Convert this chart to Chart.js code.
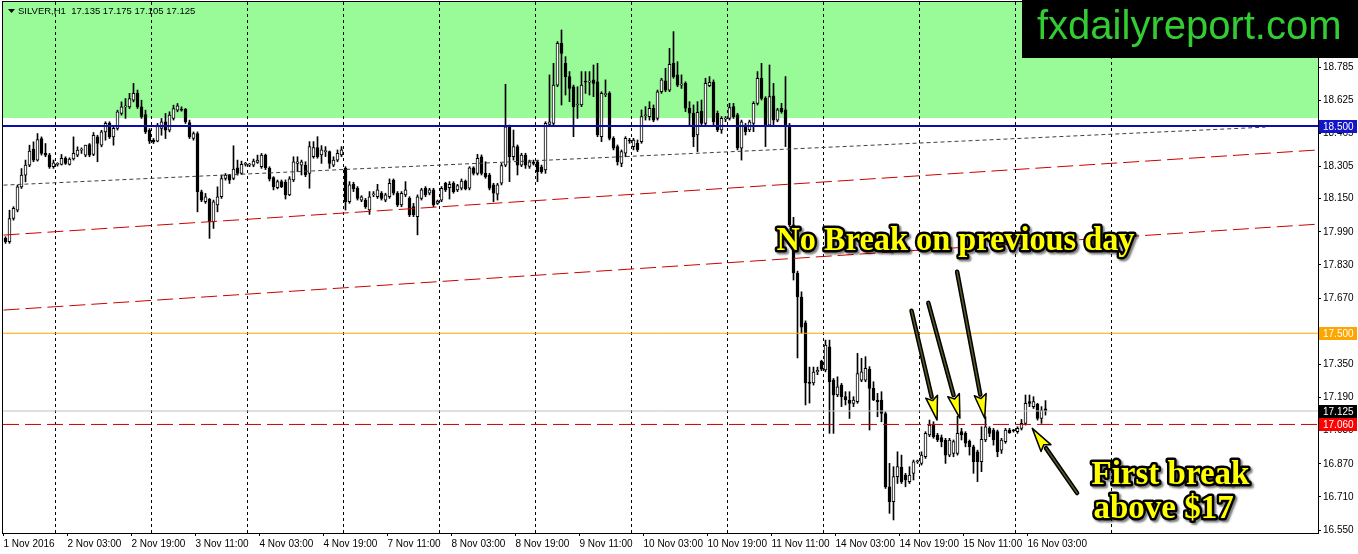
<!DOCTYPE html>
<html>
<head>
<meta charset="UTF-8">
<title>SILVER,H1</title>
<script src="https://cdn.jsdelivr.net/npm/chart.js"></script>
<style>
    html, body { margin: 0; padding: 0; background: #fff; }
    #wrap { width: 1358px; height: 554px; position: relative; }
</style>
</head>
<body>
<div id="wrap"><canvas id="chart"></canvas></div>
<script>
// hourly candles (bar 0 = 1 Nov 11:00)
const opens = [
    17.958, 17.942, 18.054, 18.094, 18.207, 18.263, 18.312, 18.389, 18.336, 18.440,
    18.368, 18.360, 18.304, 18.315, 18.315, 18.344, 18.315, 18.341, 18.360, 18.384,
    18.360, 18.411, 18.363, 18.448, 18.408, 18.472, 18.513, 18.448, 18.489, 18.561,
    18.593, 18.593, 18.625, 18.658, 18.593, 18.556, 18.480, 18.432, 18.427, 18.489,
    18.521, 18.480, 18.537, 18.577, 18.580, 18.582, 18.517, 18.440, 18.464, 18.183,
    18.135, 18.148, 18.038, 18.119, 18.159, 18.247, 18.263, 18.247, 18.299, 18.271,
    18.315, 18.312, 18.312, 18.325, 18.304, 18.360, 18.296, 18.251, 18.203, 18.232,
    18.229, 18.168, 18.240, 18.320, 18.312, 18.312, 18.272, 18.353, 18.396, 18.361,
    18.377, 18.377, 18.312, 18.336, 18.361, 18.296, 18.135, 18.219, 18.200, 18.143,
    18.143, 18.095, 18.168, 18.159, 18.176, 18.143, 18.159, 18.240, 18.176, 18.119,
    18.168, 18.151, 18.111, 18.063, 18.151, 18.200, 18.176, 18.192, 18.127, 18.143,
    18.224, 18.203, 18.224, 18.192, 18.200, 18.235, 18.200, 18.299, 18.272, 18.352,
    18.272, 18.264, 18.216, 18.171, 18.224, 18.312, 18.497, 18.352, 18.401, 18.312,
    18.360, 18.305, 18.322, 18.328, 18.304, 18.288, 18.508, 18.513, 18.698, 18.900,
    18.803, 18.739, 18.690, 18.602, 18.602, 18.714, 18.712, 18.723, 18.714, 18.449,
    18.652, 18.658, 18.441, 18.401, 18.320, 18.369, 18.429, 18.401, 18.417, 18.425,
    18.550, 18.546, 18.586, 18.537, 18.666, 18.718, 18.674, 18.803, 18.747, 18.698,
    18.706, 18.586, 18.562, 18.457, 18.572, 18.513, 18.695, 18.711, 18.562, 18.481,
    18.534, 18.537, 18.594, 18.554, 18.393, 18.505, 18.481, 18.513, 18.610, 18.731,
    18.634, 18.505, 18.646, 18.529, 18.586, 18.578, 18.505, 18.023, 17.791, 17.675,
    17.550, 17.262, 17.260, 17.313, 17.366, 17.323, 17.435, 17.274, 17.202, 17.250,
    17.194, 17.178, 17.162, 17.170, 17.274, 17.274, 17.326, 17.234, 17.178, 17.178,
    17.113, 16.759, 16.687, 16.808, 16.853, 16.816, 16.784, 16.824, 16.880, 16.872,
    16.904, 17.009, 17.057, 17.009, 16.996, 16.985, 16.912, 16.920, 16.920, 17.025,
    17.017, 16.980, 16.952, 16.928, 16.880, 16.985, 17.041, 17.033, 17.025, 16.936,
    16.977, 17.033, 17.030, 17.025, 17.041, 17.065, 17.170, 17.146, 17.158, 17.089,
    17.135
];
const highs = [
    17.966, 18.094, 18.111, 18.215, 18.295, 18.336, 18.408, 18.424, 18.464, 18.448,
    18.416, 18.368, 18.336, 18.323, 18.363, 18.352, 18.347, 18.448, 18.400, 18.395,
    18.408, 18.416, 18.469, 18.456, 18.480, 18.521, 18.521, 18.497, 18.577, 18.617,
    18.633, 18.658, 18.706, 18.674, 18.625, 18.577, 18.488, 18.440, 18.513, 18.537,
    18.561, 18.569, 18.601, 18.609, 18.593, 18.585, 18.529, 18.472, 18.472, 18.191,
    18.175, 18.151, 18.143, 18.207, 18.263, 18.271, 18.267, 18.405, 18.336, 18.331,
    18.325, 18.320, 18.341, 18.360, 18.368, 18.365, 18.304, 18.256, 18.240, 18.240,
    18.240, 18.256, 18.352, 18.352, 18.336, 18.328, 18.425, 18.425, 18.449, 18.406,
    18.401, 18.380, 18.352, 18.385, 18.401, 18.304, 18.232, 18.229, 18.208, 18.164,
    18.151, 18.184, 18.184, 18.219, 18.184, 18.176, 18.245, 18.245, 18.184, 18.184,
    18.232, 18.159, 18.127, 18.168, 18.200, 18.208, 18.200, 18.200, 18.143, 18.208,
    18.229, 18.232, 18.232, 18.219, 18.245, 18.240, 18.304, 18.304, 18.364, 18.361,
    18.328, 18.272, 18.224, 18.224, 18.320, 18.702, 18.505, 18.481, 18.409, 18.369,
    18.369, 18.336, 18.336, 18.336, 18.312, 18.521, 18.747, 18.803, 18.908, 18.964,
    18.835, 18.763, 18.698, 18.690, 18.763, 18.763, 18.763, 18.795, 18.803, 18.666,
    18.723, 18.666, 18.449, 18.409, 18.385, 18.449, 18.441, 18.441, 18.433, 18.578,
    18.594, 18.618, 18.602, 18.674, 18.731, 18.779, 18.875, 18.956, 18.811, 18.747,
    18.714, 18.618, 18.602, 18.618, 18.626, 18.731, 18.739, 18.723, 18.573, 18.546,
    18.546, 18.610, 18.610, 18.562, 18.529, 18.513, 18.529, 18.618, 18.763, 18.803,
    18.642, 18.795, 18.706, 18.586, 18.610, 18.739, 18.513, 18.060, 17.800, 17.700,
    17.560, 17.337, 17.337, 17.337, 17.370, 17.467, 17.467, 17.282, 17.290, 17.258,
    17.218, 17.218, 17.194, 17.403, 17.379, 17.387, 17.339, 17.266, 17.210, 17.218,
    17.121, 16.872, 16.856, 16.928, 16.912, 16.824, 16.856, 16.888, 16.888, 16.928,
    17.025, 17.081, 17.073, 17.017, 17.009, 16.993, 16.993, 16.985, 17.100, 17.041,
    17.025, 16.985, 16.960, 16.936, 17.049, 17.097, 17.049, 17.041, 17.033, 16.993,
    17.041, 17.041, 17.036, 17.049, 17.084, 17.202, 17.202, 17.194, 17.162, 17.146,
    17.175
];
const lows = [
    17.934, 17.934, 18.046, 18.086, 18.199, 18.231, 18.304, 18.328, 18.331, 18.360,
    18.352, 18.296, 18.296, 18.307, 18.312, 18.315, 18.312, 18.336, 18.352, 18.368,
    18.352, 18.352, 18.357, 18.328, 18.400, 18.432, 18.440, 18.408, 18.481, 18.553,
    18.537, 18.585, 18.617, 18.585, 18.537, 18.464, 18.416, 18.416, 18.424, 18.456,
    18.440, 18.472, 18.529, 18.569, 18.572, 18.513, 18.440, 18.432, 18.086, 18.135,
    18.127, 17.958, 18.006, 18.086, 18.151, 18.239, 18.223, 18.241, 18.263, 18.267,
    18.307, 18.304, 18.304, 18.320, 18.296, 18.290, 18.235, 18.192, 18.197, 18.203,
    18.148, 18.164, 18.232, 18.280, 18.264, 18.256, 18.200, 18.345, 18.345, 18.320,
    18.353, 18.296, 18.304, 18.328, 18.353, 18.095, 18.127, 18.184, 18.143, 18.135,
    18.103, 18.074, 18.159, 18.151, 18.143, 18.135, 18.151, 18.168, 18.111, 18.111,
    18.159, 18.063, 18.063, 17.975, 18.143, 18.159, 18.168, 18.111, 18.122, 18.135,
    18.184, 18.148, 18.176, 18.184, 18.192, 18.192, 18.192, 18.264, 18.264, 18.264,
    18.248, 18.192, 18.135, 18.143, 18.216, 18.304, 18.232, 18.336, 18.264, 18.304,
    18.296, 18.296, 18.312, 18.232, 18.272, 18.272, 18.505, 18.505, 18.690, 18.602,
    18.650, 18.618, 18.449, 18.537, 18.594, 18.658, 18.650, 18.642, 18.449, 18.425,
    18.642, 18.433, 18.385, 18.312, 18.304, 18.352, 18.417, 18.385, 18.377, 18.417,
    18.529, 18.529, 18.521, 18.529, 18.658, 18.666, 18.666, 18.731, 18.690, 18.682,
    18.570, 18.505, 18.401, 18.377, 18.505, 18.505, 18.690, 18.505, 18.473, 18.465,
    18.521, 18.529, 18.537, 18.385, 18.336, 18.457, 18.473, 18.473, 18.602, 18.626,
    18.401, 18.497, 18.505, 18.521, 18.562, 18.401, 18.015, 17.757, 17.381, 17.500,
    17.154, 17.163, 17.250, 17.300, 17.320, 17.314, 17.017, 17.017, 17.194, 17.146,
    17.154, 17.089, 17.146, 17.162, 17.266, 17.266, 17.033, 17.175, 17.097, 17.073,
    16.751, 16.631, 16.599, 16.775, 16.775, 16.759, 16.775, 16.792, 16.872, 16.864,
    16.896, 17.001, 16.993, 16.977, 16.952, 16.872, 16.904, 16.904, 16.912, 16.985,
    16.952, 16.912, 16.824, 16.784, 16.832, 16.977, 17.001, 16.960, 16.904, 16.920,
    16.969, 17.017, 17.023, 17.017, 17.033, 17.057, 17.146, 17.137, 17.081, 17.065,
    17.105
];
const closes = [
    17.942, 18.054, 18.103, 18.207, 18.263, 18.312, 18.379, 18.336, 18.435, 18.368,
    18.360, 18.304, 18.323, 18.315, 18.344, 18.320, 18.341, 18.368, 18.384, 18.384,
    18.408, 18.360, 18.456, 18.416, 18.472, 18.513, 18.448, 18.489, 18.569, 18.593,
    18.593, 18.633, 18.658, 18.593, 18.545, 18.472, 18.427, 18.424, 18.505, 18.521,
    18.480, 18.553, 18.585, 18.598, 18.577, 18.521, 18.448, 18.464, 18.183, 18.143,
    18.159, 18.038, 18.135, 18.159, 18.247, 18.263, 18.239, 18.292, 18.271, 18.315,
    18.315, 18.314, 18.331, 18.336, 18.360, 18.299, 18.245, 18.208, 18.232, 18.208,
    18.168, 18.245, 18.328, 18.328, 18.328, 18.264, 18.401, 18.396, 18.353, 18.385,
    18.377, 18.320, 18.336, 18.369, 18.385, 18.135, 18.216, 18.197, 18.151, 18.159,
    18.111, 18.159, 18.170, 18.192, 18.151, 18.168, 18.224, 18.176, 18.119, 18.176,
    18.192, 18.071, 18.071, 18.159, 18.192, 18.168, 18.192, 18.119, 18.138, 18.200,
    18.192, 18.219, 18.184, 18.213, 18.235, 18.197, 18.299, 18.272, 18.345, 18.272,
    18.256, 18.200, 18.176, 18.216, 18.309, 18.497, 18.352, 18.401, 18.312, 18.360,
    18.312, 18.328, 18.320, 18.280, 18.280, 18.513, 18.521, 18.698, 18.900, 18.851,
    18.739, 18.682, 18.594, 18.602, 18.698, 18.712, 18.714, 18.706, 18.457, 18.658,
    18.654, 18.441, 18.393, 18.328, 18.377, 18.441, 18.428, 18.433, 18.385, 18.546,
    18.552, 18.586, 18.529, 18.666, 18.723, 18.674, 18.798, 18.739, 18.698, 18.698,
    18.586, 18.562, 18.449, 18.566, 18.513, 18.706, 18.711, 18.521, 18.481, 18.537,
    18.535, 18.589, 18.546, 18.393, 18.521, 18.473, 18.521, 18.610, 18.731, 18.634,
    18.505, 18.642, 18.529, 18.578, 18.570, 18.505, 18.023, 17.791, 17.675, 17.530,
    17.260, 17.258, 17.313, 17.322, 17.327, 17.443, 17.266, 17.202, 17.242, 17.194,
    17.178, 17.162, 17.178, 17.306, 17.314, 17.331, 17.234, 17.178, 17.170, 17.113,
    16.759, 16.687, 16.808, 16.856, 16.784, 16.792, 16.816, 16.880, 16.881, 16.912,
    17.017, 17.057, 17.001, 16.985, 16.977, 16.912, 16.985, 16.977, 17.017, 17.009,
    16.969, 16.952, 16.880, 16.880, 16.988, 17.049, 17.017, 16.985, 16.928, 16.985,
    17.033, 17.020, 17.029, 17.041, 17.065, 17.162, 17.162, 17.170, 17.089, 17.129,
    17.125
];

// axis labels (bar index of each time label) and day separators
const xTickIdx = [0, 16, 32, 48, 64, 80, 96, 112, 128, 144, 160, 176, 192, 208, 224, 240, 256];
const xTickLabels = ['1 Nov 2016', '2 Nov 03:00', '2 Nov 19:00', '3 Nov 11:00', '4 Nov 03:00', '4 Nov 19:00',
    '7 Nov 11:00', '8 Nov 03:00', '8 Nov 19:00', '9 Nov 11:00', '10 Nov 03:00', '10 Nov 19:00',
    '11 Nov 11:00', '14 Nov 03:00', '14 Nov 19:00', '15 Nov 11:00', '16 Nov 03:00'];
const dayStartIdx = [13, 37, 61, 85, 109, 133, 157, 181, 205, 229, 253, 277];
const yTicks = [16.55, 16.71, 16.87, 17.03, 17.19, 17.35, 17.67, 17.83, 17.99, 18.15, 18.305, 18.465, 18.625, 18.785];

// drawn objects (price levels, trend lines, zone)
const levelValues = [18.5, 17.5, 17.125, 17.06];
const zoneLow = 18.539;
const trendDotted = [[-0.5, 18.215], [315, 18.495]];
const channelUpper = [[-0.5, 17.974], [328.25, 18.385]];
const channelLower = [[-0.5, 17.612], [328.25, 18.027]];

// annotations: [bar index, price]
const arrowTails = [[226.5, 17.609], [230.7, 17.647], [237.9, 17.797], [267.9, 16.729]];
const arrowTips = [[232.9, 17.081], [238.6, 17.090], [244.8, 17.090], [256.7, 17.041]];
const noteTexts = ['No Break on previous day', 'First break', 'above $17'];
const notePos = [[192.75, 17.902], [271.5, 16.772], [272, 16.608]];

const xMin = -0.625, xMax = 328.125;
const yMin = 16.536, yMax = 19.099;

const FONT = '"Liberation Sans", Arial, sans-serif';

const wickData = lows.map((l, i) => ({x: i, y: [l, highs[i]]}));
const bodyData = opens.map((o, i) => ({x: i, y: [o, closes[i]]}));
const bodyColors = opens.map((o, i) => closes[i] >= o ? '#ffffff' : '#000000');

function seg(pts, color, width, dash) {
    return {
        type: 'line',
        data: pts.map(p => ({x: p[0], y: p[1]})),
        borderColor: color,
        borderWidth: width,
        borderDash: dash,
        pointRadius: 0,
        fill: false,
        order: 0
    };
}

const lineStyles = [
    ['#0c0ca8', 2, []],
    ['#ffa500', 1, []],
    ['#c0c0c0', 1, []],
    ['#cc0000', 1, [16, 6]]
];
const levelBoxColors = ['#1414c8', '#ffa500', '#000000', '#ff0000'];

const datasets = [
    {type: 'bar', data: wickData, backgroundColor: '#000', barThickness: 1, grouped: false, order: 3},
    {type: 'bar', data: bodyData, backgroundColor: bodyColors, borderColor: '#000', borderWidth: 1,
        borderSkipped: false, barThickness: 3, minBarLength: 1, grouped: false, order: 2},
    seg(trendDotted, '#404040', 1, [4, 3]),
    seg(channelUpper, '#cc0000', 1, [16, 6]),
    seg(channelLower, '#cc0000', 1, [16, 6])
];
levelValues.forEach((v, k) => {
    const s = lineStyles[k];
    datasets.push(seg([[xMin, v], [xMax, v]], s[0], s[1], s[2]));
});

function drawArrow(ctx, x1, y1, x2, y2) {
    const ang = Math.atan2(y2 - y1, x2 - x1);
    const headLen = 24, headW = 6;
    const bx = x2 - headLen * Math.cos(ang), by = y2 - headLen * Math.sin(ang);
    ctx.lineCap = 'round';
    ctx.strokeStyle = '#000';
    ctx.lineWidth = 4.5;
    ctx.beginPath(); ctx.moveTo(x1, y1); ctx.lineTo(bx, by); ctx.stroke();
    ctx.strokeStyle = '#5a5a22';
    ctx.lineWidth = 1.5;
    ctx.beginPath(); ctx.moveTo(x1, y1); ctx.lineTo(bx, by); ctx.stroke();
    const px = -Math.sin(ang), py = Math.cos(ang);
    ctx.beginPath();
    ctx.moveTo(x2, y2);
    ctx.lineTo(bx + px * headW, by + py * headW);
    ctx.lineTo(bx + 4 * Math.cos(ang), by + 4 * Math.sin(ang));
    ctx.lineTo(bx - px * headW, by - py * headW);
    ctx.closePath();
    ctx.fillStyle = '#ffff00';
    ctx.fill();
    ctx.lineWidth = 1.5;
    ctx.lineJoin = 'round';
    ctx.strokeStyle = '#000';
    ctx.stroke();
}

function drawNote(ctx, text, x, y, maxW) {
    ctx.font = 'bold 33px "Liberation Serif", "Times New Roman", serif';
    ctx.textAlign = 'left';
    ctx.textBaseline = 'alphabetic';
    ctx.lineJoin = 'round';
    ctx.save();
    ctx.shadowColor = 'rgba(0,0,0,0.5)';
    ctx.shadowOffsetX = 2;
    ctx.shadowOffsetY = 2;
    ctx.shadowBlur = 2;
    ctx.strokeStyle = '#000';
    ctx.lineWidth = 5;
    if (maxW) ctx.strokeText(text, x, y, maxW); else ctx.strokeText(text, x, y);
    ctx.restore();
    ctx.fillStyle = '#ffff00';
    if (maxW) ctx.fillText(text, x, y, maxW); else ctx.fillText(text, x, y);
}

const decor = {
    id: 'decor',
    beforeDraw(chart) {
        const {ctx, chartArea: a, scales: {y}} = chart;
        ctx.save();
        ctx.fillStyle = '#98fb98';
        ctx.fillRect(a.left, a.top, a.right - a.left, y.getPixelForValue(zoneLow) - a.top);
        ctx.restore();
    },
    afterDraw(chart) {
        const {ctx, chartArea: a, scales: {x, y}} = chart;
        ctx.save();

        // frame
        ctx.strokeStyle = '#000';
        ctx.lineWidth = 1;
        ctx.strokeRect(a.left - 0.5, a.top - 0.5, a.right - a.left + 1, a.bottom - a.top + 1);

        // annotations
        ctx.save();
        ctx.beginPath();
        ctx.rect(a.left, a.top, a.right - a.left, a.bottom - a.top);
        ctx.clip();
        arrowTails.forEach((t, k) => {
            const h = arrowTips[k];
            drawArrow(ctx, x.getPixelForValue(t[0]), y.getPixelForValue(t[1]),
                x.getPixelForValue(h[0]), y.getPixelForValue(h[1]));
        });
        noteTexts.forEach((t, k) => {
            drawNote(ctx, t, x.getPixelForValue(notePos[k][0]), y.getPixelForValue(notePos[k][1]), k === 0 ? 358 : 0);
        });
        ctx.restore();

        // price labels on the axis
        ctx.font = '10px ' + FONT;
        ctx.textBaseline = 'middle';
        ctx.textAlign = 'left';
        levelValues.forEach((v, k) => {
            const py = Math.round(y.getPixelForValue(v));
            ctx.fillStyle = levelBoxColors[k];
            ctx.fillRect(a.right + 1, py - 6, 38, 13);
            ctx.fillStyle = '#fff';
            ctx.fillText(v.toFixed(3), a.right + 5, py + 1);
        });

        // symbol header
        const n = opens.length - 1;
        ctx.fillStyle = '#000';
        ctx.beginPath();
        ctx.moveTo(a.left + 5, a.top + 7);
        ctx.lineTo(a.left + 12, a.top + 7);
        ctx.lineTo(a.left + 8.5, a.top + 11);
        ctx.closePath();
        ctx.fill();
        ctx.font = '9.5px ' + FONT;
        ctx.fillText('SILVER,H1  ' + [opens[n], highs[n], lows[n], closes[n]].map(v => v.toFixed(3)).join(' '),
            a.left + 15, a.top + 9);

        // watermark
        ctx.fillStyle = '#000';
        ctx.fillRect(1022, 0, chart.width - 1022, 58);
        ctx.fillStyle = '#33cc33';
        ctx.font = '40px ' + FONT;
        ctx.textBaseline = 'alphabetic';
        ctx.fillText('fxdailyreport.com', 1037, 39);

        ctx.restore();
    }
};

new Chart(document.getElementById('chart'), {
    type: 'bar',
    data: {datasets},
    options: {
        responsive: true,
        maintainAspectRatio: false,
        animation: false,
        events: [],
        layout: {padding: {left: 3, top: 2, right: 0, bottom: 0}},
        plugins: {legend: {display: false}, tooltip: {enabled: false}},
        scales: {
            x: {
                type: 'linear', position: 'bottom', min: xMin, max: xMax, bounds: 'data', offset: false,
                afterBuildTicks: s => { s.ticks = xTickIdx.map(v => ({value: v - 0.5})); },
                afterFit: s => { s.height = 21; s.paddingLeft = 0; s.paddingRight = 0; },
                ticks: {
                    autoSkip: false, maxRotation: 0, minRotation: 0, align: 'start', padding: 2,
                    color: '#000', font: {family: FONT, size: 10},
                    callback: (v, i) => xTickLabels[i]
                },
                grid: {offset: false, drawOnChartArea: false, drawTicks: true, tickLength: 3, color: '#000'},
                border: {display: false}
            },
            days: {
                type: 'linear', position: 'bottom', min: xMin, max: xMax, bounds: 'data', offset: false,
                afterBuildTicks: s => { s.ticks = dayStartIdx.map(v => ({value: v - 0.5})); },
                afterFit: s => { s.height = 0; s.paddingLeft = 0; s.paddingRight = 0; },
                ticks: {display: false},
                grid: {offset: false, drawTicks: false, color: '#000', lineWidth: 1},
                border: {display: false, dash: [3, 3]}
            },
            y: {
                type: 'linear', position: 'right', min: yMin, max: yMax, bounds: 'data',
                afterBuildTicks: s => { s.ticks = yTicks.map(v => ({value: v})); },
                afterFit: s => { s.width = 40; s.paddingTop = 0; s.paddingBottom = 0; },
                ticks: {padding: 2, color: '#000', font: {family: FONT, size: 10}, callback: v => v.toFixed(3)},
                grid: {drawOnChartArea: false, tickLength: 3, color: '#000'},
                border: {display: false}
            }
        }
    },
    plugins: [decor]
});
</script>
</body>
</html>
